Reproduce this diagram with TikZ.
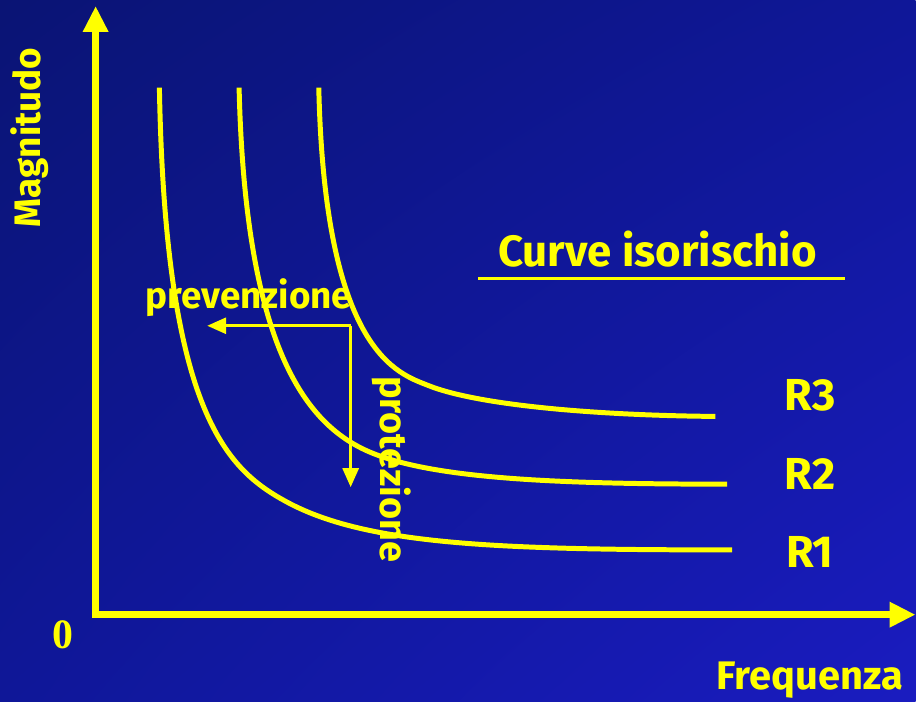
\documentclass[tikz,border=0pt]{standalone}
\usepackage{fontspec}
\setmainfont{Fira Sans}
\newfontfamily\zerofont{Liberation Serif}
\usetikzlibrary{arrows.meta,positioning,shadings}
\definecolor{slideyellow}{HTML}{FFFF00}
\definecolor{slidenavy}{HTML}{0A1474}
\definecolor{slidemid}{HTML}{0F1798}
\definecolor{slideblue}{HTML}{1A1CC0}

\begin{document}
\begin{tikzpicture}[
  x=1pt, y=-1pt,
  axis/.style={line width=7pt, draw=slideyellow, {Triangle[length=26pt,width=24pt]}-{Triangle[length=26pt,width=24pt]}},
  curve/.style={line width=5pt, draw=slideyellow},
  arr/.style={line width=3pt, draw=slideyellow, -{Triangle[length=19pt,width=16pt]}},
  lbl/.style={text=slideyellow, inner sep=0pt, font=\bfseries\fontsize{37}{42}\selectfont},
  big/.style={lbl, font=\bfseries\fontsize{45}{50}\selectfont}
]
\shade[upper left=slidenavy, upper right=slidemid, lower left=slidemid, lower right=slideblue] (0,0) rectangle (919,704);

\coordinate (origin) at (96,617);
\coordinate (ytip) at (96,6);
\coordinate (xtip) at (919,617);
\draw[axis, line join=miter] (ytip) -- (origin) -- (xtip);

\node[lbl, rotate=90] (ylab) at (30,138) {Magnitudo};
\node[lbl, anchor=base, font=\bfseries\fontsize{40}{44}\selectfont] (xlab) at (813,692) {Frequenza};
\node[text=slideyellow, inner sep=0pt, anchor=base, font=\zerofont\bfseries\fontsize{42}{48}\selectfont] (zero) at (63,651) {0};

\draw[curve] (160,88) .. controls (166,420) and (230,473) .. (290,505)
  .. controls (370,547) and (500,552) .. (735,552);
\draw[curve] (240,88) .. controls (246,340) and (303,420) .. (363,450)
  .. controls (423,480) and (550,486) .. (730,486);
\draw[curve] (320,88) .. controls (326,355) and (400,375) .. (430,387)
  .. controls (480,407) and (600,417) .. (718,418);

\node[big, anchor=base] (r3) at (813,412) {R3};
\node[big, anchor=base] (r2) at (813,491) {R2};
\node[big, anchor=base] (r1) at (813,570) {R1};

\node[lbl, anchor=base, font=\bfseries\fontsize{44}{48}\selectfont] (title) at (660,268) {Curve\ isorischio};
\coordinate (ulleft) at (480,280);
\coordinate (ulright) at (848,280);
\draw[slideyellow, line width=3pt] (ulleft) -- (ulright);

\coordinate (start) at (352,327);
\coordinate (prevtip) at (208,327);
\coordinate (prottip) at (352,489);
\draw[arr] (start) -- (prevtip);
\draw[arr] (start) -- (prottip);
\node[lbl, anchor=base] (prev) at (250,310) {prevenzione};
\node[lbl, anchor=base, rotate=-90, font=\bfseries\fontsize{38}{42}\selectfont] (prot) at (382,471) {protezione};
\end{tikzpicture}
\end{document}
